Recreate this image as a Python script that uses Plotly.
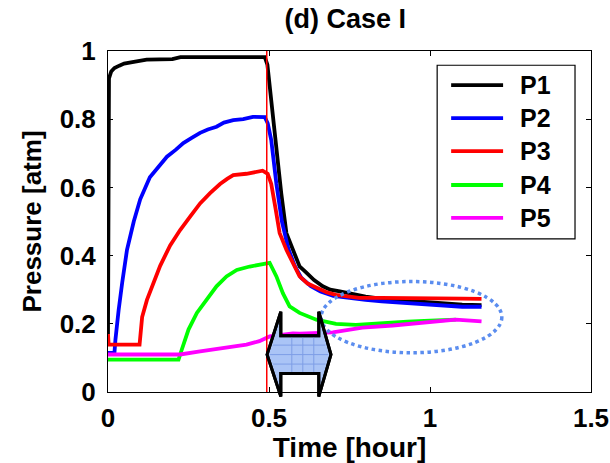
import plotly.graph_objects as go

# ---------------- data ----------------
series_names = ["P1", "P2", "P3", "P4", "P5"]
series_colors = ["#000000", "#0000ff", "#ff0000", "#00ff00", "#ff00ff"]

p1_t = [0, 0.001, 0.003, 0.01, 0.02, 0.035, 0.05, 0.08, 0.12, 0.2, 0.225, 0.3, 0.4, 0.487,
        0.495, 0.507, 0.523, 0.538, 0.554, 0.574, 0.595, 0.616, 0.64, 0.667, 0.69, 0.72,
        0.76, 0.8, 0.853, 0.9, 0.95, 1.0, 1.05, 1.1, 1.16]
p1_p = [0.17, 0.87, 0.92, 0.94, 0.95, 0.957, 0.963, 0.968, 0.975, 0.976, 0.982, 0.982, 0.982, 0.982,
        0.96, 0.856, 0.709, 0.583, 0.466, 0.417, 0.368, 0.35, 0.328, 0.31, 0.30, 0.295,
        0.287, 0.28, 0.273, 0.27, 0.266, 0.263, 0.26, 0.256, 0.255]

p2_t = [0, 0.02, 0.023, 0.027, 0.033, 0.044, 0.059, 0.08, 0.10, 0.13, 0.16, 0.183, 0.21, 0.234,
        0.26, 0.286, 0.31, 0.337, 0.36, 0.389, 0.42, 0.45, 0.487, 0.496, 0.507, 0.523, 0.54,
        0.56, 0.58, 0.6, 0.63, 0.66, 0.7, 0.75, 0.8, 0.85, 0.9, 0.95, 1.0, 1.05, 1.1, 1.16]
p2_p = [0.115, 0.115, 0.153, 0.2, 0.24, 0.32, 0.417, 0.50, 0.565, 0.63, 0.665, 0.69, 0.71, 0.73,
        0.745, 0.76, 0.77, 0.778, 0.79, 0.797, 0.80, 0.807, 0.806, 0.788, 0.739, 0.61, 0.5,
        0.42, 0.37, 0.335, 0.31, 0.295, 0.282, 0.275, 0.27, 0.266, 0.263, 0.258, 0.255, 0.252, 0.25, 0.25]

p3_t = [0, 0.002, 0.098, 0.106, 0.121, 0.142, 0.162, 0.193, 0.224, 0.255, 0.286, 0.317, 0.348,
        0.37, 0.389, 0.43, 0.46, 0.48, 0.496, 0.507, 0.52, 0.533, 0.554, 0.574, 0.595, 0.62,
        0.647, 0.68, 0.708, 0.75, 0.78, 0.85, 0.904, 1.0, 1.1, 1.16]
p3_p = [0.17, 0.139, 0.139, 0.22, 0.27, 0.32, 0.37, 0.43, 0.475, 0.514, 0.553, 0.583, 0.61,
        0.625, 0.636, 0.64, 0.645, 0.649, 0.64, 0.61, 0.54, 0.466, 0.417, 0.378, 0.339, 0.318,
        0.305, 0.292, 0.285, 0.28, 0.276, 0.276, 0.276, 0.275, 0.274, 0.273]

p4_t = [0, 0.219, 0.229, 0.25, 0.276, 0.307, 0.337, 0.368, 0.40, 0.44, 0.48, 0.502, 0.523,
        0.543, 0.564, 0.595, 0.647, 0.708, 0.77, 0.853, 0.93, 1.0, 1.08]
p4_p = [0.095, 0.095, 0.124, 0.183, 0.232, 0.27, 0.31, 0.339, 0.358, 0.368, 0.376, 0.379, 0.339,
        0.29, 0.251, 0.232, 0.212, 0.2, 0.197, 0.203, 0.206, 0.209, 0.212]

p5_t = [0, 0.224, 0.286, 0.368, 0.43, 0.47, 0.492, 0.502, 0.574, 0.595, 0.698, 0.79, 0.884,
        0.987, 1.08, 1.16]
p5_p = [0.11, 0.11, 0.119, 0.13, 0.139, 0.149, 0.159, 0.163, 0.172, 0.171, 0.175, 0.189, 0.195,
        0.204, 0.212, 0.207]

switch_time = 0.493

x_tick_vals = [0, 0.5, 1, 1.5]
x_tick_text = ["0", "0.5", "1", "1.5"]
y_tick_vals = [0, 0.2, 0.4, 0.6, 0.8, 1.0]
y_tick_text = ["0", "0.2", "0.4", "0.6", "0.8", "1"]

series_t = [p1_t, p2_t, p3_t, p4_t, p5_t]
series_p = [p1_p, p2_p, p3_p, p4_p, p5_p]

# ---------------- figure ----------------
FONT = "Liberation Sans, Arial, sans-serif"
PL, PR, PT, PB = 107.5, 591.0, 50.7, 392.5   # plot area in pixels
fig = go.Figure()

for name, color, t, p in zip(series_names, series_colors, series_t, series_p):
    fig.add_trace(go.Scatter(x=t, y=p, mode="lines", name=name,
                             line=dict(color=color, width=3.8), showlegend=False))

# vertical switch line
fig.add_vline(x=switch_time, line=dict(color="#ff0000", width=1.5), layer="above")

# dotted ellipse
fig.add_shape(type="circle", xref="x", yref="y", x0=0.662, x1=1.223, y0=0.115, y1=0.324,
              line=dict(color="#5b8def", width=3.5, dash="dot"))

# double arrow (paper coords)
def px2paper(px, py):
    return ((px - PL) / (PR - PL), (PB - py) / (PB - PT))

arrow_px = [(266.7, 355), (280.5, 312), (280.5, 336), (318.5, 336), (318.5, 312), (330.7, 355),
            (318.5, 397), (318.5, 374), (280.5, 374), (280.5, 397)]
pts = [px2paper(a, b) for a, b in arrow_px]
path = "M " + " L ".join(f"{x:.4f},{y:.4f}" for x, y in pts) + " Z"
fig.add_shape(type="path", xref="paper", yref="paper", path=path,
              fillcolor="#aac4f6", line=dict(color="#000000", width=3), layer="above")
# grid inside arrow
grid_col = "#7e9ee6"
for gx in [291.5, 302.5, 313.5]:
    x0, y0 = px2paper(gx, 336)
    _, y1 = px2paper(gx, 374)
    fig.add_shape(type="line", xref="paper", yref="paper", x0=x0, x1=x0, y0=y0, y1=y1,
                  line=dict(color=grid_col, width=1), layer="above")
for gy in [345.5, 355, 364.5]:
    d = abs(gy - 355) / 43.0
    xl = 266.7 + 13.8 * d + 3
    xr = 330.7 - 12.2 * d - 3
    x0, y0 = px2paper(xl, gy)
    x1, _ = px2paper(xr, gy)
    fig.add_shape(type="line", xref="paper", yref="paper", x0=x0, x1=x1, y0=y0, y1=y0,
                  line=dict(color=grid_col, width=1), layer="above")
fig.add_shape(type="path", xref="paper", yref="paper", path=path,
              fillcolor="rgba(0,0,0,0)", line=dict(color="#000000", width=3), layer="above")

# manual legend
lx0, ly0 = px2paper(437, 239)
lx1, ly1 = px2paper(575, 65)
fig.add_shape(type="rect", xref="paper", yref="paper", x0=lx0, x1=lx1, y0=ly0, y1=ly1,
              fillcolor="white", line=dict(color="black", width=1.2), layer="above")
entry_py = [85, 118, 151, 185, 218]
for name, color, py in zip(series_names, series_colors, entry_py):
    sx0, sy = px2paper(451, py)
    sx1, _ = px2paper(503, py)
    fig.add_shape(type="line", xref="paper", yref="paper", x0=sx0, x1=sx1, y0=sy, y1=sy,
                  line=dict(color=color, width=3.8), layer="above")
    tx, _ = px2paper(518, py)
    fig.add_annotation(xref="paper", yref="paper", x=tx, y=sy, text=name, showarrow=False,
                       xanchor="left", yanchor="middle",
                       font=dict(family=FONT, size=25, color="black", weight="bold"))

axis_common = dict(showgrid=False, zeroline=False, showline=True, linecolor="black", linewidth=1,
                   mirror="ticks", ticks="inside", ticklen=5, tickcolor="black",
                   ticklabeloverflow="allow",
                   tickfont=dict(family=FONT, size=26, color="black", weight="bold"))

fig.update_layout(
    width=610, height=463,
    margin=dict(l=PL, r=610 - PR, t=PT, b=463 - PB, autoexpand=False),
    paper_bgcolor="white", plot_bgcolor="white",
    title=dict(text="(d) Case I", x=0.566, xanchor="center", y=1 - 19 / 463, yanchor="middle",
               xref="container", yref="container",
               font=dict(family=FONT, size=27, color="black", weight="bold")),
    xaxis=dict(range=[0, 1.5], tickvals=x_tick_vals, ticktext=x_tick_text,
               title=dict(text="Time [hour]", standoff=5,
                          font=dict(family=FONT, size=28, color="black", weight="bold")),
               ticklabelstandoff=3, **axis_common),
    yaxis=dict(range=[0, 1], tickvals=y_tick_vals, ticktext=y_tick_text,
               title=dict(text="Pressure [atm]", standoff=10,
                          font=dict(family=FONT, size=26, color="black", weight="bold")),
               ticklabelstandoff=6, **axis_common),
)

fig.write_html("out.html")
